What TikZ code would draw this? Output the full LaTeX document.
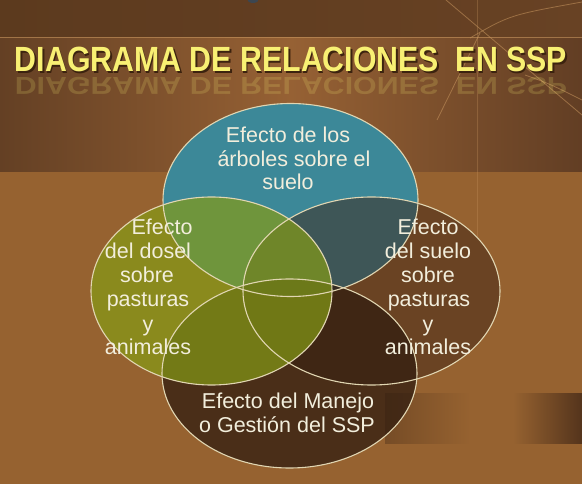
\documentclass[tikz,border=0pt]{standalone}
\usepackage{fontspec}
\setmainfont{Liberation Sans}
\usepackage{graphicx}
\definecolor{bgtopL}{RGB}{92,58,30}
\definecolor{bgtopR}{RGB}{104,66,36}
\definecolor{bandL}{RGB}{100,64,36}
\definecolor{bandM}{RGB}{150,97,52}
\definecolor{bandR}{RGB}{98,62,36}
\definecolor{bglow}{RGB}{150,98,48}
\definecolor{darkR}{RGB}{84,52,28}
\definecolor{darkL}{RGB}{118,76,38}
\definecolor{tealc}{RGB}{60,136,152}
\definecolor{rightc}{RGB}{64,38,24}
\definecolor{botc}{RGB}{49,29,16}
\definecolor{leftc}{RGB}{133,155,22}
\definecolor{rimc}{RGB}{225,214,178}
\definecolor{txtc}{RGB}{242,238,220}
\definecolor{decoc}{RGB}{200,150,95}
\definecolor{titlec}{RGB}{248,240,115}
\definecolor{titlesh}{RGB}{60,35,15}
\definecolor{blobc}{RGB}{60,70,80}
\newcommand{\ttltext}{\fontsize{35}{40}\selectfont\bfseries DIAGRAMA DE RELACIONES\ \ EN SSP}
\begin{document}
\begin{tikzpicture}[x=1pt,y=-1pt,
  lbl/.style={text=txtc, font=\fontsize{21.5}{24}\selectfont, anchor=base, inner sep=0pt},
  rim/.style={draw=rimc, line width=1.1pt},
  deco/.style={draw=decoc, line width=0.8pt, opacity=0.55},
  ttl/.style={anchor=base, inner sep=0pt}]
\useasboundingbox (0,0) rectangle (582,484);
% background
\shade[left color=bgtopL, right color=bgtopR] (0,0) rectangle (582,38);
\shade[left color=bandL, right color=bandR, middle color=bandM] (0,38) rectangle (582,172);
\fill[bglow] (0,172) rectangle (582,484);
\draw[decoc, line width=1pt, opacity=0.6] (0,37.5) -- (582,37.5);
\fill[blobc] (253,-1) ellipse [x radius=6, y radius=4];
% decorative lines
\draw[deco] (446,0) -- (582,115);
\draw[deco, opacity=0.3] (477,0) -- (477,240);
\draw[deco] (470,38) .. controls (510,15) .. (582,2);
\draw[deco] (480,33) -- (437,120);
\draw[deco] (525,75) .. controls (550,84) .. (582,100);
% dark panels lower right
\shade[left color=bglow, right color=darkR] (513,393) rectangle (582,443);
\shade[left color=darkL, right color=bglow] (385,393) rectangle (470,443);
% title
\node[ttl, text=titlesh] (ttlsh) at (292.5,73.5) {\scalebox{0.866}[1]{\ttltext}};
\node[ttl, text=titlec] (title) at (291,72) {\scalebox{0.866}[1]{\ttltext}};
\node[ttl, text=titlec, text opacity=0.18] (refl) at (291,78) {\scalebox{0.866}[-0.7]{\ttltext}};
% ellipse centres
\coordinate (cT) at (290.5,200);
\coordinate (cR) at (371.5,291);
\coordinate (cB) at (289.5,373.5);
\coordinate (cL) at (211.5,291);
% fills
\fill[tealc] (cT) ellipse [x radius=127.5, y radius=96.5];
\fill[rightc, opacity=0.5] (cR) ellipse [x radius=128.5, y radius=94];
\fill[botc, opacity=0.75] (cB) ellipse [x radius=127.5, y radius=94.5];
\fill[leftc, opacity=0.7] (cL) ellipse [x radius=120.5, y radius=94];
% rims
\draw[rim] (cT) ellipse [x radius=127.5, y radius=96.5];
\draw[rim] (cR) ellipse [x radius=128.5, y radius=94];
\draw[rim] (cB) ellipse [x radius=127.5, y radius=94.5];
\draw[rim] (cL) ellipse [x radius=120.5, y radius=94];
% texts top
\node[lbl] (t1) at (288,143) {Efecto de los};
\node[lbl] (t2) at (294,167) {árboles sobre el};
\node[lbl] (t3) at (288,190) {suelo};
% left
\node[lbl] (l1) at (162,235) {Efecto};
\node[lbl] (l2) at (148,259) {del dosel};
\node[lbl] (l3) at (147,283) {sobre};
\node[lbl] (l4) at (148,307) {pasturas};
\node[lbl] (l5) at (148,331) {y};
\node[lbl] (l6) at (148,355) {animales};
% right
\node[lbl] (r1) at (428,235) {Efecto};
\node[lbl] (r2) at (428,259) {del suelo};
\node[lbl] (r3) at (428,283) {sobre};
\node[lbl] (r4) at (429,307) {pasturas};
\node[lbl] (r5) at (428,331) {y};
\node[lbl] (r6) at (428,355) {animales};
% bottom
\node[lbl] (b1) at (288,408) {Efecto del Manejo};
\node[lbl] (b2) at (287,432) {o Gestión del SSP};
\end{tikzpicture}
\end{document}
